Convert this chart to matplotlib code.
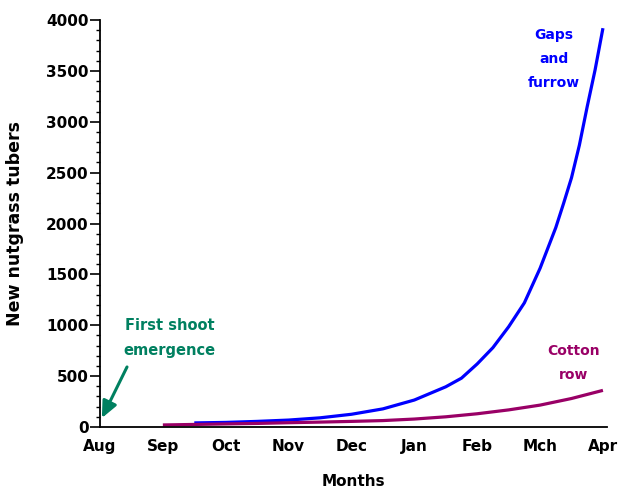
import numpy as np
import matplotlib
matplotlib.use("Agg")
import matplotlib.pyplot as plt
from matplotlib.ticker import MultipleLocator

plt.rcParams['font.family'] = ['DejaVu Sans']
plt.rcParams['font.weight'] = 'bold'

# month labels along the x axis (Aug = 0 ... Apr = 8)
months = ['Aug', 'Sep', 'Oct', 'Nov', 'Dec', 'Jan', 'Feb', 'Mch', 'Apr']

# gaps and furrow series (month position, tubers)
gaps_t = [1.5, 2, 2.5, 3, 3.5, 4, 4.5, 5, 5.5, 5.75, 6, 6.25, 6.5, 6.75, 7, 7.25,
          7.375, 7.5, 7.625, 7.75, 7.875, 8]
gaps_v = [40, 45, 55, 68, 90, 125, 178, 265, 395, 480, 620, 780, 985, 1220, 1560, 1960,
          2200, 2450, 2770, 3150, 3510, 3920]

# cotton row series
cotton_t = [1, 1.5, 2, 2.5, 3, 3.5, 4, 4.5, 5, 5.5, 6, 6.5, 7, 7.5, 8]
cotton_v = [20, 25, 30, 35, 42, 48, 55, 63, 78, 100, 130, 168, 215, 280, 360]

blue = '#0000ff'
purple = '#990066'
green = '#008060'

fig = plt.figure(figsize=(6.21, 4.90), dpi=100)
ax = fig.add_axes([0.161, 0.1286, 0.816, 0.8305])

ax.plot(gaps_t, gaps_v, color=blue, lw=2.3, solid_capstyle='butt')
ax.plot(cotton_t, cotton_v, color=purple, lw=2.3, solid_capstyle='butt')

ax.set_xlim(0, 8.06)
ax.set_ylim(0, 4000)
ax.set_xticks(range(len(months)))
ax.set_xticklabels(months)
ax.yaxis.set_major_locator(MultipleLocator(500))
ax.yaxis.set_minor_locator(MultipleLocator(100))

ax.spines['top'].set_visible(False)
ax.spines['right'].set_visible(False)
ax.spines['left'].set_linewidth(1.3)
ax.spines['bottom'].set_linewidth(1.3)
ax.tick_params(axis='x', length=0, pad=9, labelsize=11)
ax.tick_params(axis='y', which='major', length=7, width=1.2, labelsize=11, pad=1)
ax.tick_params(axis='y', which='minor', length=3, width=1.0)
for lab in ax.get_xticklabels() + ax.get_yticklabels():
    lab.set_fontweight('bold')

ax.set_ylabel('New nutgrass tubers', fontsize=12.5, fontweight='bold')
ax.yaxis.set_label_coords(-0.15, 0.5)
ax.set_xlabel('Months', fontsize=11, fontweight='bold', labelpad=14)

ax.text(7.22, 3617, 'Gaps\nand\nfurrow', color=blue, fontsize=10, fontweight='bold',
        ha='center', va='center', linespacing=1.9)
ax.text(7.53, 629, 'Cotton\nrow', color=purple, fontsize=10, fontweight='bold',
        ha='center', va='center', linespacing=1.9)
ax.text(1.11, 875, 'First shoot\nemergence', color=green, fontsize=10.5, fontweight='bold',
        ha='center', va='center', linespacing=1.85)
ax.annotate('', xy=(0.03, 88), xytext=(0.43, 590),
            arrowprops=dict(arrowstyle='-|>,head_width=0.45,head_length=1.0',
                            color=green, lw=2.2, shrinkA=0, shrinkB=0))

fig.savefig('out.png', dpi=100)
